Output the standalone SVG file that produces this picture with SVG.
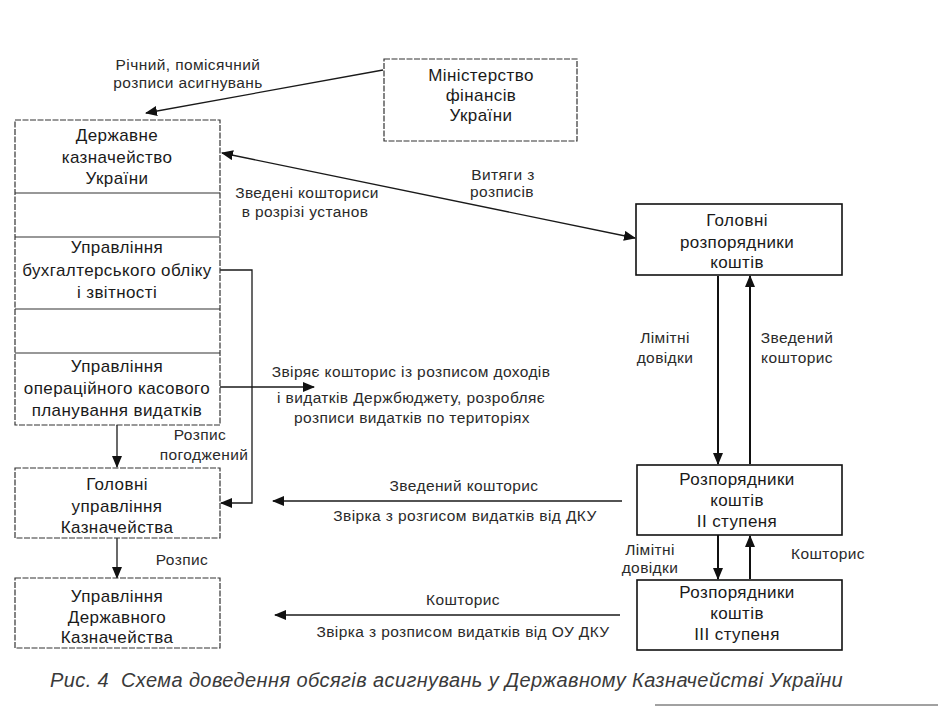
<svg xmlns="http://www.w3.org/2000/svg" width="942" height="715" viewBox="0 0 942 715">
<style>
  text { font-family: "Liberation Sans", Arial, sans-serif; fill: #1a1a1a; }
  .bt { font-size: 17px; letter-spacing: 0.4px; text-anchor: middle; }
  .lb { font-size: 15.5px; letter-spacing: 0.4px; text-anchor: middle; fill: #2a2a2a; }
  .cap { font-size: 20px; letter-spacing: 0.4px; font-style: italic; fill: #3a3a3a; }
  .boxL { fill: #fff; stroke: #333; stroke-width: 1.2; stroke-dasharray: 6 1.5; }
  .boxR { fill: #fff; stroke: #111; stroke-width: 1.6; }
  .div { stroke: #333; stroke-width: 1.2; }
  .ln { fill: none; stroke: #1a1a1a; stroke-width: 1.3; }
  .lnb { fill: none; stroke: #111; stroke-width: 2; }
</style>
<defs>
  <marker id="ah" viewBox="0 0 12 10" refX="11" refY="5" markerWidth="12" markerHeight="10" markerUnits="userSpaceOnUse" orient="auto">
    <path d="M0,0 L12,5 L0,10 z" fill="#111"/>
  </marker>
  <marker id="ahs" viewBox="0 0 12 10" refX="1" refY="5" markerWidth="12" markerHeight="10" markerUnits="userSpaceOnUse" orient="auto">
    <path d="M12,0 L0,5 L12,10 z" fill="#111"/>
  </marker>
</defs>
<rect width="942" height="715" fill="#fff"/>

<g id="connectors">
  <line class="ln" x1="383" y1="70" x2="146" y2="113" marker-end="url(#ah)"/>
  <line class="ln" x1="222" y1="153" x2="635" y2="238" marker-start="url(#ahs)" marker-end="url(#ah)"/>
  <line class="ln" x1="117" y1="353" x2="117" y2="309" marker-end="url(#ah)"/>
  <line class="ln" x1="117" y1="425" x2="117" y2="467" marker-end="url(#ah)"/>
  <line class="ln" x1="117" y1="538" x2="117" y2="578" marker-end="url(#ah)"/>
  <polyline class="ln" points="220,270 252,270 252,503 221,503" marker-end="url(#ah)"/>
  <line class="ln" x1="220" y1="387" x2="314" y2="387" marker-end="url(#ah)"/>
  <line class="lnb" x1="718" y1="276" x2="718" y2="464" marker-end="url(#ah)"/>
  <line class="lnb" x1="750" y1="464" x2="750" y2="276" marker-end="url(#ah)"/>
  <line class="lnb" x1="718" y1="535" x2="718" y2="579" marker-end="url(#ah)"/>
  <line class="lnb" x1="750" y1="579" x2="750" y2="536" marker-end="url(#ah)"/>
  <line class="ln" x1="622" y1="501" x2="273" y2="501" marker-end="url(#ah)"/>
  <line class="ln" x1="620" y1="615" x2="275" y2="615" marker-end="url(#ah)"/>
</g>

<g id="labels">
  <text class="lb" x="188" y="70">Річний, помісячний</text>
  <text class="lb" x="188" y="88">розписи асигнувань</text>
  <text class="lb" x="307" y="198">Зведені кошториси</text>
  <text class="lb" x="305" y="217">в розрізі установ</text>
  <text class="lb" x="503" y="180">Витяги з</text>
  <text class="lb" x="502" y="197">розписів</text>
  <text class="lb" x="184" y="335">Розпис</text>
  <text class="lb" x="411" y="377">Звіряє кошторис із розписом доходів</text>
  <text class="lb" x="411" y="403">і видатків Держбюджету, розробляє</text>
  <text class="lb" x="412" y="423">розписи видатків по територіях</text>
  <text class="lb" x="200" y="440">Розпис</text>
  <text class="lb" x="204" y="460">погоджений</text>
  <text class="lb" x="182" y="565">Розпис</text>
  <text class="lb" x="665" y="343">Лімітні</text>
  <text class="lb" x="665" y="363">довідки</text>
  <text class="lb" x="797" y="343">Зведений</text>
  <text class="lb" x="797" y="363">кошторис</text>
  <text class="lb" x="650" y="555">Лімітні</text>
  <text class="lb" x="650" y="573">довідки</text>
  <text class="lb" x="828" y="559">Кошторис</text>
  <text class="lb" x="464" y="491">Зведений кошторис</text>
  <text class="lb" x="465" y="521">Звірка з розгисом видатків від ДКУ</text>
  <text class="lb" x="463" y="605">Кошторис</text>
  <text class="lb" x="463" y="637">Звірка з розписом видатків від ОУ ДКУ</text>
</g>

<g id="minfin">
  <rect class="boxL" x="384" y="59" width="193" height="82"/>
  <text class="bt" x="481" y="81">Міністерство</text>
  <text class="bt" x="481" y="101">фінансів</text>
  <text class="bt" x="481" y="121">України</text>
</g>

<g id="dku">
  <rect class="boxL" x="15" y="120" width="205" height="305"/>
  <line class="div" x1="15" y1="193" x2="220" y2="193"/>
  <line class="div" x1="15" y1="237" x2="220" y2="237"/>
  <line class="div" x1="15" y1="309" x2="220" y2="309"/>
  <line class="div" x1="15" y1="353" x2="220" y2="353"/>
  <text class="bt" x="117" y="141">Державне</text>
  <text class="bt" x="117" y="163">казначейство</text>
  <text class="bt" x="117" y="184">України</text>
</g>

<g id="ubo">
  <text class="bt" x="117" y="253">Управління</text>
  <text class="bt" x="117" y="276">бухгалтерського обліку</text>
  <text class="bt" x="117" y="298">і звітності</text>
</g>

<g id="uokp">
  <text class="bt" x="117" y="372">Управління</text>
  <text class="bt" x="117" y="394">операційного касового</text>
  <text class="bt" x="117" y="416">планування видатків</text>
</g>

<g id="guk">
  <rect class="boxL" x="15" y="468" width="205" height="70"/>
  <text class="bt" x="117" y="490">Головні</text>
  <text class="bt" x="117" y="512">управління</text>
  <text class="bt" x="117" y="533">Казначейства</text>
</g>

<g id="udk">
  <rect class="boxL" x="15" y="578" width="205" height="70"/>
  <text class="bt" x="117" y="602">Управління</text>
  <text class="bt" x="117" y="623">Державного</text>
  <text class="bt" x="117" y="643">Казначейства</text>
</g>

<g id="grk">
  <rect class="boxR" x="636" y="204" width="206" height="71"/>
  <text class="bt" x="737" y="226">Головні</text>
  <text class="bt" x="737" y="248">розпорядники</text>
  <text class="bt" x="737" y="268">коштів</text>
</g>

<g id="rk2">
  <rect class="boxR" x="637" y="465" width="205" height="70"/>
  <text class="bt" x="737" y="485">Розпорядники</text>
  <text class="bt" x="737" y="506">коштів</text>
  <text class="bt" x="737" y="527">II ступеня</text>
</g>

<g id="rk3">
  <rect class="boxR" x="637" y="580" width="205" height="70"/>
  <text class="bt" x="737" y="598">Розпорядники</text>
  <text class="bt" x="737" y="619">коштів</text>
  <text class="bt" x="737" y="640">III ступеня</text>
</g>

<text class="cap" x="50" y="687" xml:space="preserve">Рис. 4  Схема доведення обсягів асигнувань у Державному Казначействі України</text>
<line x1="655" y1="705" x2="938" y2="705" stroke="#444" stroke-width="1"/>
</svg>
